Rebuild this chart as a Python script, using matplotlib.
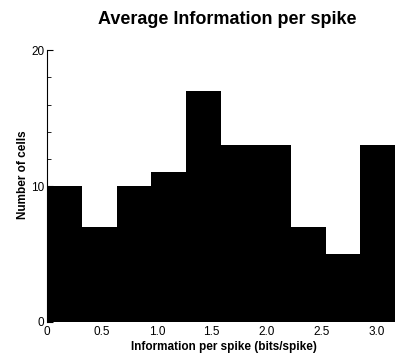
import numpy as np
import matplotlib
matplotlib.use("Agg")
import matplotlib.pyplot as plt
from matplotlib.ticker import MultipleLocator

# histogram data
bin_left = [0.0, 0.317, 0.634, 0.951, 1.268, 1.585, 1.902, 2.219, 2.536, 2.853]
bin_width = 0.317
counts = [10, 7, 10, 11, 17, 13, 13, 7, 5, 13]
x_ticks = [0, 0.5, 1.0, 1.5, 2.0, 2.5, 3.0]
x_ticklabels = ["0", "0.5", "1.0", "1.5", "2.0", "2.5", "3.0"]
y_ticks = [0, 10, 20]

plt.rcParams["font.family"] = ["Liberation Sans", "DejaVu Sans"]

fig = plt.figure(figsize=(3.97, 3.54), dpi=100)
ax = fig.add_axes([0.1184, 0.0904, 0.877, 0.768])

ax.bar(bin_left, counts, width=bin_width, align="edge", color="black",
       edgecolor="none", linewidth=0)

ax.set_xlim(0, 3.17)
ax.set_ylim(0, 20)

for s in ["top", "right", "bottom"]:
    ax.spines[s].set_visible(False)
ax.spines["left"].set_linewidth(0.8)

ax.set_xticks(x_ticks)
ax.set_xticklabels(x_ticklabels)
ax.set_yticks(y_ticks)
ax.yaxis.set_minor_locator(MultipleLocator(2))
ax.tick_params(axis="x", length=0, pad=3, labelsize=8.5)
ax.tick_params(axis="y", which="major", direction="in", length=4, width=0.8,
               pad=2, labelsize=8.5)
ax.tick_params(axis="y", which="minor", direction="in", length=3, width=0.6)

fig.text(227 / 397, 1 - 20 / 354, "Average Information per spike",
         ha="center", va="center", fontsize=13, fontweight="bold")
fig.text(224 / 397, 1 - 347 / 354, "Information per spike (bits/spike)",
         ha="center", va="center", fontsize=8.5, fontweight="bold")
fig.text(23 / 397, 1 - 175 / 354, "Number of cells", rotation=90,
         ha="center", va="center", fontsize=8.5, fontweight="bold")

fig.savefig("out.png", dpi=100)
